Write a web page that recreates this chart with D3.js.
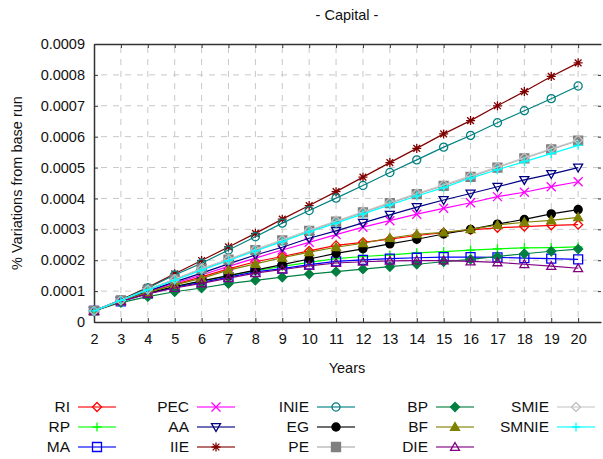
<!DOCTYPE html>
<html><head><meta charset="utf-8">
<script src="https://cdn.jsdelivr.net/npm/d3@7"></script>
<style>body{margin:0;background:#fff}svg{display:block;font-family:"Liberation Sans",Arial,sans-serif}</style>
</head><body><svg id="c" width="603" height="459"></svg>
<script>
const years = [2,3,4,5,6,7,8,9,10,11,12,13,14,15,16,17,18,19,20];
const yTicks = [0,0.0001,0.0002,0.0003,0.0004,0.0005,0.0006,0.0007,0.0008,0.0009];
const yTickLabels = ["0","0.0001","0.0002","0.0003","0.0004","0.0005","0.0006","0.0007","0.0008","0.0009"];
const xTickLabels = ["2","3","4","5","6","7","8","9","10","11","12","13","14","15","16","17","18","19","20"];

const RI    = [0.36e-4,0.69e-4,0.97e-4,1.22e-4,1.46e-4,1.72e-4,1.95e-4,2.12e-4,2.30e-4,2.48e-4,2.58e-4,2.68e-4,2.80e-4,2.89e-4,2.98e-4,3.05e-4,3.09e-4,3.13e-4,3.15e-4];
const RP    = [0.36e-4,0.68e-4,0.93e-4,1.14e-4,1.32e-4,1.50e-4,1.66e-4,1.80e-4,1.93e-4,2.05e-4,2.12e-4,2.17e-4,2.24e-4,2.28e-4,2.33e-4,2.37e-4,2.40e-4,2.41e-4,2.43e-4];
const MA    = [0.36e-4,0.67e-4,0.92e-4,1.12e-4,1.28e-4,1.45e-4,1.62e-4,1.73e-4,1.86e-4,1.96e-4,2.01e-4,2.05e-4,2.08e-4,2.10e-4,2.10e-4,2.09e-4,2.07e-4,2.05e-4,2.03e-4];
const PEC   = [0.36e-4,0.69e-4,0.99e-4,1.26e-4,1.52e-4,1.80e-4,2.07e-4,2.33e-4,2.58e-4,2.83e-4,3.07e-4,3.28e-4,3.49e-4,3.68e-4,3.86e-4,4.06e-4,4.20e-4,4.38e-4,4.54e-4];
const AA    = [0.36e-4,0.69e-4,1.00e-4,1.30e-4,1.58e-4,1.88e-4,2.17e-4,2.42e-4,2.71e-4,2.95e-4,3.21e-4,3.47e-4,3.72e-4,3.95e-4,4.16e-4,4.38e-4,4.60e-4,4.79e-4,5.00e-4];
const IIE   = [0.36e-4,0.72e-4,1.12e-4,1.56e-4,1.99e-4,2.43e-4,2.87e-4,3.33e-4,3.77e-4,4.22e-4,4.69e-4,5.16e-4,5.62e-4,6.09e-4,6.52e-4,7.00e-4,7.46e-4,7.95e-4,8.39e-4];
const INIE  = [0.36e-4,0.71e-4,1.10e-4,1.52e-4,1.90e-4,2.33e-4,2.76e-4,3.20e-4,3.61e-4,4.01e-4,4.42e-4,4.84e-4,5.25e-4,5.66e-4,6.04e-4,6.45e-4,6.84e-4,7.23e-4,7.64e-4];
const EG    = [0.36e-4,0.68e-4,0.94e-4,1.15e-4,1.33e-4,1.50e-4,1.68e-4,1.86e-4,2.04e-4,2.22e-4,2.37e-4,2.53e-4,2.68e-4,2.85e-4,3.00e-4,3.17e-4,3.32e-4,3.50e-4,3.64e-4];
const PE    = [0.36e-4,0.70e-4,1.05e-4,1.38e-4,1.72e-4,2.02e-4,2.33e-4,2.64e-4,2.95e-4,3.25e-4,3.55e-4,3.85e-4,4.14e-4,4.41e-4,4.70e-4,5.00e-4,5.30e-4,5.59e-4,5.87e-4];
const BP    = [0.36e-4,0.63e-4,0.82e-4,0.98e-4,1.10e-4,1.24e-4,1.35e-4,1.45e-4,1.55e-4,1.63e-4,1.71e-4,1.79e-4,1.87e-4,1.95e-4,2.03e-4,2.12e-4,2.21e-4,2.29e-4,2.36e-4];
const BF    = [0.36e-4,0.68e-4,0.96e-4,1.20e-4,1.41e-4,1.68e-4,1.88e-4,2.08e-4,2.26e-4,2.42e-4,2.55e-4,2.72e-4,2.84e-4,2.90e-4,3.00e-4,3.14e-4,3.23e-4,3.29e-4,3.39e-4];
const DIE   = [0.36e-4,0.67e-4,0.91e-4,1.10e-4,1.25e-4,1.42e-4,1.58e-4,1.70e-4,1.82e-4,1.91e-4,1.95e-4,1.98e-4,1.99e-4,1.99e-4,1.96e-4,1.93e-4,1.87e-4,1.81e-4,1.74e-4];
const SMIE  = [0.36e-4,0.70e-4,1.05e-4,1.39e-4,1.73e-4,2.03e-4,2.35e-4,2.66e-4,2.97e-4,3.27e-4,3.57e-4,3.87e-4,4.16e-4,4.44e-4,4.73e-4,5.02e-4,5.32e-4,5.61e-4,5.89e-4];
const SMNIE = [0.36e-4,0.70e-4,1.04e-4,1.35e-4,1.68e-4,1.99e-4,2.30e-4,2.60e-4,2.92e-4,3.20e-4,3.50e-4,3.79e-4,4.08e-4,4.35e-4,4.66e-4,4.93e-4,5.19e-4,5.45e-4,5.72e-4];

const seriesNames = ["RI","RP","MA","PEC","AA","IIE","INIE","EG","PE","BP","BF","DIE","SMIE","SMNIE"];
const seriesValues = [RI,RP,MA,PEC,AA,IIE,INIE,EG,PE,BP,BF,DIE,SMIE,SMNIE];
const lineColors   = ["#ff0000","#00ff00","#0000ff","#ff00ff","#000080","#800000","#008080","#000000","#a8a8a8","#007f40","#808000","#800080","#c8c8c8","#00ffff"];
const markerColors = ["#ff0000","#00ff00","#0000ff","#ff00ff","#000080","#800000","#008080","#000000","#808080","#007f40","#808000","#800080","#c0c0c0","#00ffff"];
const markerTypes  = ["diamond","plus","square","cross","triDown","star","circle","dot","fsquare","fdiamond","ftriUp","triUp","diamond","plus"];

const svg = d3.select("#c");
const L = 94, R = 601, T = 44, B = 322;
const x = d3.scaleLinear().domain([2, 20.85]).range([L, R]);
const y = d3.scaleLinear().domain([0, 0.0009]).range([B, T]);

// grid
const g = svg.append("g");
g.selectAll(".vg").data(years.slice(1)).join("line")
  .attr("x1", d => x(d)).attr("x2", d => x(d)).attr("y1", T).attr("y2", B)
  .attr("stroke", "#c8c8c8").attr("stroke-dasharray", "6,6").attr("stroke-dashoffset", -3);
g.selectAll(".hg").data(yTicks.slice(1, -1)).join("line")
  .attr("x1", L).attr("x2", R).attr("y1", d => y(d)).attr("y2", d => y(d))
  .attr("stroke", "#c8c8c8").attr("stroke-dasharray", "6,6").attr("stroke-dashoffset", -7);

// axes
const axisColor = "#333";
const xb = svg.append("g").attr("transform", `translate(0,${B})`)
  .call(d3.axisBottom(x).tickValues(years).tickFormat((d, i) => xTickLabels[i]).tickSizeInner(-4).tickSizeOuter(0).tickPadding(12));
const xt = svg.append("g").attr("transform", `translate(0,${T})`)
  .call(d3.axisTop(x).tickValues(years).tickFormat("").tickSizeInner(-4).tickSizeOuter(0));
const yl = svg.append("g").attr("transform", `translate(${L},0)`)
  .call(d3.axisLeft(y).tickValues(yTicks).tickFormat((d, i) => yTickLabels[i]).tickSizeInner(-4).tickSizeOuter(0).tickPadding(9));
const yr = svg.append("g").attr("transform", `translate(${R},0)`)
  .call(d3.axisRight(y).tickValues(yTicks).tickFormat("").tickSizeInner(-3).tickSizeOuter(0));
yr.select(".domain").remove();
[xb, xt, yl, yr].forEach(a => {
  a.selectAll("path.domain").attr("stroke", axisColor).attr("stroke-width", 1.5);
  a.selectAll(".tick line").attr("stroke", axisColor);
  a.selectAll("text").attr("font-family", "Liberation Sans, Arial, sans-serif").attr("font-size", 14.5).attr("fill", "#111");
});

function markerPath(type, r) {
  switch (type) {
    case "diamond": case "fdiamond": return `M0,${-r}L${r},0L0,${r}L${-r},0Z`;
    case "plus": return `M${-r},0H${r}M0,${-r}V${r}`;
    case "square": case "fsquare": return `M${-r},${-r}H${r}V${r}H${-r}Z`;
    case "cross": return `M${-r},${-r}L${r},${r}M${-r},${r}L${r},${-r}`;
    case "star": { const a = r * 0.75; return `M${-r},0H${r}M0,${-r}V${r}M${-a},${-a}L${a},${a}M${-a},${a}L${a},${-a}`; }
    case "triDown": return `M${-r},${-r*0.75}L${r},${-r*0.75}L0,${r}Z`;
    case "triUp": case "ftriUp": return `M${-r},${r*0.75}L${r},${r*0.75}L0,${-r}Z`;
    case "circle": case "dot": return d3.arc()({innerRadius: 0, outerRadius: r*0.9, startAngle: 0, endAngle: 2*Math.PI});
  }
}
function isFilled(type) { return ["fdiamond","fsquare","ftriUp","dot"].includes(type); }

function drawMarker(sel, type, color, r) {
  sel.append("path").attr("d", markerPath(type, r))
    .attr("fill", isFilled(type) ? color : "none")
    .attr("stroke", color).attr("stroke-width", 1.3);
}

const line = d3.line().x((d, i) => x(years[i])).y(d => y(d));
const plot = svg.append("g");
seriesNames.forEach((name, k) => {
  const sg = plot.append("g");
  sg.append("path").datum(seriesValues[k]).attr("d", line)
    .attr("fill", "none").attr("stroke", lineColors[k]).attr("stroke-width", 1.2);
  seriesValues[k].forEach((v, i) => {
    const m = sg.append("g").attr("transform", `translate(${x(years[i])},${y(v)})`);
    drawMarker(m, markerTypes[k], markerColors[k], 4.5);
  });
});

// titles
svg.append("text").attr("x", 347).attr("y", 20).attr("text-anchor", "middle")
  .attr("font-size", 14.5).attr("fill", "#111").text("- Capital -");
svg.append("text").attr("x", 347).attr("y", 373).attr("text-anchor", "middle")
  .attr("font-size", 14.5).attr("fill", "#111").text("Years");
svg.append("text").attr("transform", `translate(22,${(T+B)/2}) rotate(-90)`).attr("text-anchor", "middle")
  .attr("font-size", 14.5).attr("fill", "#111").text("% Variations from base run");

// legend
const colX = [70, 189, 309, 428, 549];
const rowY = [407, 427, 447];
seriesNames.forEach((name, k) => {
  const col = Math.floor(k / 3), row = k % 3;
  const lg = svg.append("g").attr("transform", `translate(${colX[col]},${rowY[row]})`);
  lg.append("text").attr("x", 0).attr("y", 5).attr("text-anchor", "end")
    .attr("font-size", 15.5).attr("fill", "#111").text(name);
  lg.append("line").attr("x1", 8).attr("x2", 46).attr("y1", 0).attr("y2", 0)
    .attr("stroke", lineColors[k]).attr("stroke-width", 1.5).attr("opacity", 0.75);
  const m = lg.append("g").attr("transform", "translate(27,0)");
  drawMarker(m, markerTypes[k], markerColors[k], 4.5);
});
</script></body></html>
